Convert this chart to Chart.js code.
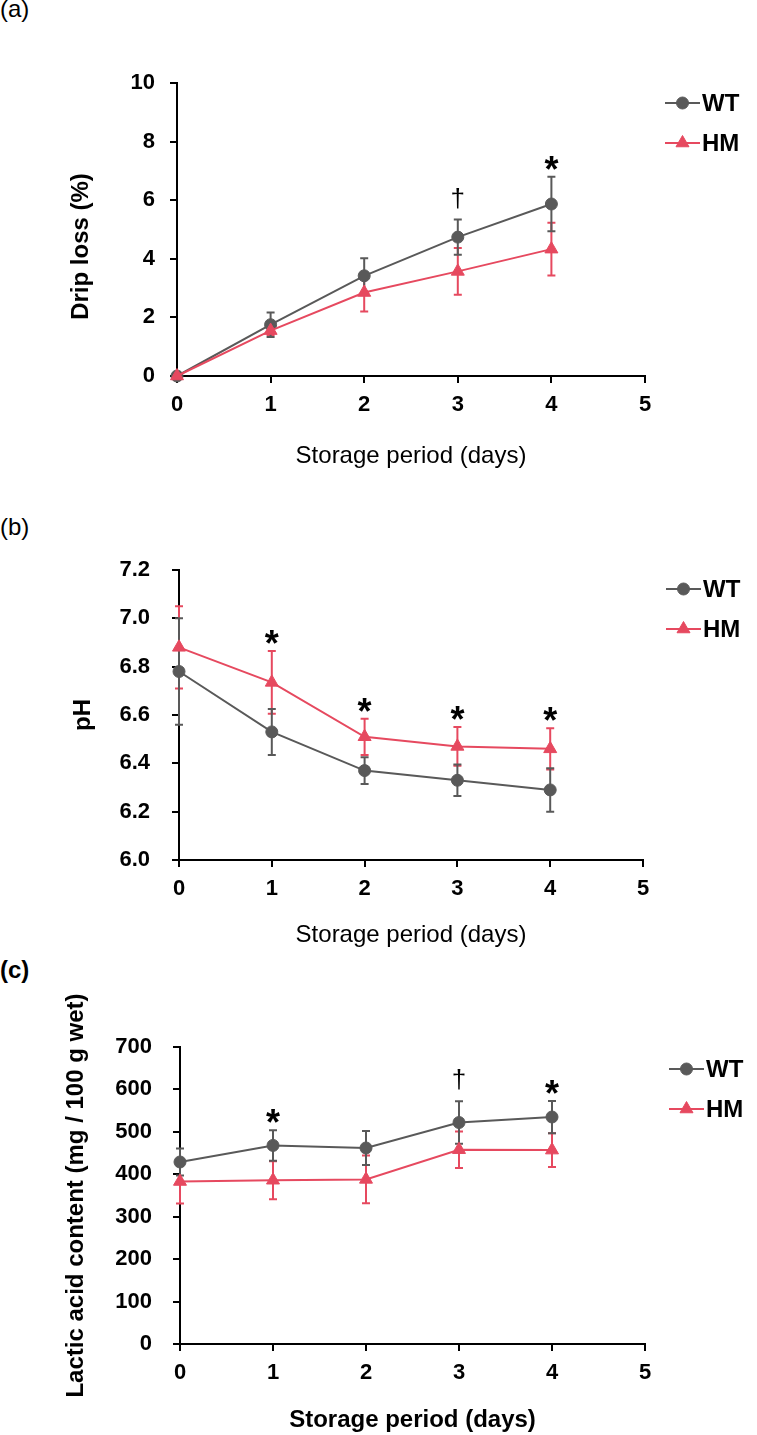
<!DOCTYPE html>
<html>
<head>
<meta charset="utf-8">
<script src="https://cdn.jsdelivr.net/npm/chart.js@4.4.0/dist/chart.umd.min.js"></script>
<style>
  body { margin: 0; background: #fff; width: 757px; height: 1435px; position: relative; overflow: hidden;
         font-family: "Liberation Sans", Arial, sans-serif; }
  canvas { position: absolute; left: 0; }
  .tag { position: absolute; left: 0; font-size: 24px; line-height: 24px; color: #000; }
</style>
</head>
<body>
<div class="tag" style="top:-3px">(a)</div>
<div class="tag" style="top:515px">(b)</div>
<div class="tag" style="top:958px;font-weight:bold">(c)</div>
<canvas id="chartA" width="757" height="480" style="top:0px"></canvas>
<canvas id="chartB" width="757" height="480" style="top:480px"></canvas>
<canvas id="chartC" width="757" height="475" style="top:960px"></canvas>
<script>
// storage period (days)
const days = [0, 1, 2, 3, 4];

// (a) drip loss (%)
const dripWT = [0, 1.75, 3.42, 4.74, 5.87];
const dripWTErr = [0, 0.42, 0.6, 0.6, 0.93];
const dripHM = [0, 1.55, 2.85, 3.57, 4.33];
const dripHMErr = [0, 0.15, 0.65, 0.8, 0.9];
const dripSig = ["", "", "", "†", "*"];

// (b) pH
const phWT = [6.78, 6.53, 6.37, 6.33, 6.29];
const phWTErr = [0.22, 0.095, 0.055, 0.065, 0.09];
const phHM = [6.88, 6.735, 6.51, 6.47, 6.46];
const phHMErr = [0.17, 0.13, 0.075, 0.08, 0.085];
const phSig = ["", "*", "*", "*", "*"];

// (c) lactic acid (mg / 100 g wet)
const lacWT = [429, 468, 462, 522, 535];
const lacWTErr = [32, 36, 40, 50, 38];
const lacHM = [383, 386, 388, 458, 457];
const lacHMErr = [52, 45, 56, 43, 40];
const lacSig = ["", "*", "", "†", "*"];

const GRAY = "#595959";
const RED = "#E6495F";
const FONT = "'Liberation Sans', Arial, sans-serif";

Chart.defaults.font.family = FONT;
Chart.defaults.color = "#000";

function toPoints(ys) {
  return days.map((d, i) => ({ x: d, y: ys[i] }));
}

// vertical error bars with caps
const errorBars = {
  id: "errorBars",
  beforeDatasetsDraw(chart) {
    const ctx = chart.ctx;
    const xs = chart.scales.x;
    const ys = chart.scales.y;
    [1, 0].forEach((di) => {
      const ds = chart.data.datasets[di];
      ctx.save();
      ctx.strokeStyle = ds.borderColor;
      ctx.lineWidth = 2;
      ds.data.forEach((p, i) => {
        const e = ds.errors[i];
        if (!e) return;
        const px = xs.getPixelForValue(p.x);
        const top = ys.getPixelForValue(p.y + e);
        const bot = ys.getPixelForValue(p.y - e);
        ctx.beginPath();
        ctx.moveTo(px, top);
        ctx.lineTo(px, bot);
        ctx.moveTo(px - 4, top);
        ctx.lineTo(px + 4, top);
        ctx.moveTo(px - 4, bot);
        ctx.lineTo(px + 4, bot);
        ctx.stroke();
      });
      ctx.restore();
    });
  },
};

// * and † above the highest error bar
const sigMarks = {
  id: "sigMarks",
  afterDatasetsDraw(chart, args, opts) {
    const ctx = chart.ctx;
    const xs = chart.scales.x;
    const ys = chart.scales.y;
    ctx.save();
    ctx.fillStyle = "#000";
    ctx.textAlign = "center";
    ctx.textBaseline = "alphabetic";
    opts.labels.forEach((s, i) => {
      if (!s) return;
      let top = Infinity;
      chart.data.datasets.forEach((ds) => {
        top = Math.min(top, ys.getPixelForValue(ds.data[i].y + ds.errors[i]));
      });
      const px = xs.getPixelForValue(days[i]);
      if (s === "*") {
        ctx.font = "bold 36px " + FONT;
        ctx.fillText(s, px, top + 5);
      } else {
        ctx.font = "26px " + FONT;
        ctx.fillText(s, px, top - 13);
      }
    });
    ctx.restore();
  },
};

// rotated y title, centred on the plot plus a shift
const yTitle = {
  id: "yTitle",
  afterDraw(chart, args, opts) {
    const ctx = chart.ctx;
    const area = chart.chartArea;
    ctx.save();
    ctx.translate(opts.x, (area.top + area.bottom) / 2 + opts.shift);
    ctx.rotate(-Math.PI / 2);
    ctx.fillStyle = "#000";
    ctx.font = "bold 24px " + FONT;
    ctx.textAlign = "center";
    ctx.textBaseline = "middle";
    ctx.fillText(opts.text, 0, 0);
    ctx.restore();
  },
};

// legend: short line with marker, then label
const lineLegend = {
  id: "lineLegend",
  afterDraw(chart, args, opts) {
    const ctx = chart.ctx;
    const area = chart.chartArea;
    chart.data.datasets.forEach((ds, k) => {
      const y = area.top + opts.top + k * 40;
      const x0 = area.right + opts.left;
      ctx.save();
      ctx.strokeStyle = ds.borderColor;
      ctx.fillStyle = ds.backgroundColor;
      ctx.lineWidth = 2;
      ctx.beginPath();
      ctx.moveTo(x0, y);
      ctx.lineTo(x0 + 35, y);
      ctx.stroke();
      ctx.lineWidth = 1;
      Chart.helpers.drawPoint(ctx, { pointStyle: ds.pointStyle, radius: ds.pointRadius, rotation: 0, borderWidth: 1 }, x0 + 17.5, y);
      ctx.fillStyle = "#000";
      ctx.font = "bold 24px " + FONT;
      ctx.textAlign = "left";
      ctx.textBaseline = "middle";
      ctx.fillText(ds.label, x0 + 37, y + 1);
      ctx.restore();
    });
  },
};

function makeChart(id, cfg) {
  return new Chart(document.getElementById(id), {
    type: "line",
    data: {
      datasets: [
        {
          label: "WT",
          data: toPoints(cfg.wt),
          errors: cfg.wtErr,
          borderColor: GRAY,
          backgroundColor: GRAY,
          pointStyle: "circle",
          pointRadius: 6,
          pointBorderWidth: 1,
          borderWidth: 2,
          tension: 0,
          clip: false,
          order: 1,
        },
        {
          label: "HM",
          data: toPoints(cfg.hm),
          errors: cfg.hmErr,
          borderColor: RED,
          backgroundColor: RED,
          pointStyle: "triangle",
          pointRadius: 7.5,
          pointBorderWidth: 1,
          borderWidth: 2,
          tension: 0,
          clip: false,
          order: 0,
        },
      ],
    },
    options: {
      responsive: false,
      animation: false,
      layout: { padding: cfg.pad },
      plugins: {
        legend: { display: false },
        tooltip: { enabled: false },
        sigMarks: { labels: cfg.sig },
        lineLegend: { top: cfg.legTop, left: cfg.legLeft },
        yTitle: { text: cfg.yTitle, x: cfg.yTitleX, shift: cfg.yTitleShift },
      },
      scales: {
        x: {
          type: "linear",
          min: 0,
          max: 5,
          afterFit: (s) => { s.height = cfg.xH; },
          ticks: { stepSize: 1, padding: 9, color: "#000", font: { size: 22, weight: "bold" } },
          grid: { drawOnChartArea: false, tickLength: 7, color: "#000", lineWidth: 2 },
          border: { color: "#000", width: 2 },
          title: {
            display: true,
            text: "Storage period (days)",
            color: "#000",
            font: { size: 24, weight: cfg.xBold ? "bold" : "normal", lineHeight: 1.2 },
            padding: { top: 0, bottom: cfg.xTitlePad },
          },
        },
        y: {
          min: cfg.yMin,
          max: cfg.yMax,
          afterFit: (s) => { s.width = cfg.yW; },
          ticks: {
            stepSize: cfg.yStep,
            padding: cfg.yTickPad,
            color: "#000",
            font: { size: 22, weight: "bold" },
            callback: (v) => v.toFixed(cfg.yDec),
          },
          grid: { drawOnChartArea: false, tickLength: 7, color: "#000", lineWidth: 2 },
          border: { color: "#000", width: 2 },
          title: { display: false },
        },
      },
    },
    plugins: [errorBars, sigMarks, lineLegend, yTitle],
  });
}

makeChart("chartA", {
  wt: dripWT, wtErr: dripWTErr, hm: dripHM, hmErr: dripHMErr, sig: dripSig,
  yMin: 0, yMax: 10, yStep: 2, yDec: 0, yTitle: "Drip loss (%)",
  pad: { left: 0, top: 83, right: 112, bottom: 0 },
  yW: 177, xH: 104, xTitlePad: 9.6, yTickPad: 15,
  yTitleX: 81, yTitleShift: 17,
  legTop: 20, legLeft: 20, xBold: false,
});

makeChart("chartB", {
  wt: phWT, wtErr: phWTErr, hm: phHM, hmErr: phHMErr, sig: phSig,
  yMin: 6.0, yMax: 7.2, yStep: 0.2, yDec: 1, yTitle: "pH",
  pad: { left: 0, top: 90, right: 114, bottom: 0 },
  yW: 179, xH: 100, xTitlePad: 10.6, yTickPad: 22,
  yTitleX: 83, yTitleShift: 0,
  legTop: 19, legLeft: 23, xBold: false,
});

makeChart("chartC", {
  wt: lacWT, wtErr: lacWTErr, hm: lacHM, hmErr: lacHMErr, sig: lacSig,
  yMin: 0, yMax: 700, yStep: 100, yDec: 0, yTitle: "Lactic acid content (mg / 100 g wet)",
  pad: { left: 0, top: 87, right: 112, bottom: 0 },
  yW: 180, xH: 91, xTitlePad: 0, yTickPad: 21,
  yTitleX: 76, yTitleShift: 0,
  legTop: 22, legLeft: 24, xBold: true,
});
</script>
</body>
</html>
